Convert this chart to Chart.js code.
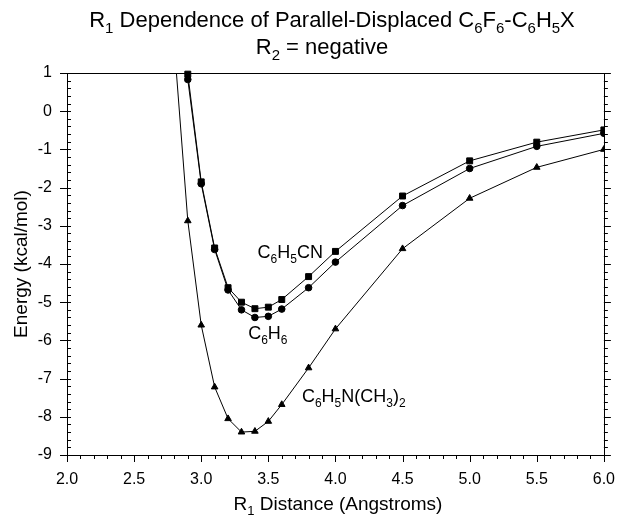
<!DOCTYPE html>
<html>
<head>
<meta charset="utf-8">
<script src="https://cdn.jsdelivr.net/npm/chart.js@4.4.0/dist/chart.umd.min.js"></script>
<style>
  html, body { margin: 0; padding: 0; background: #fff; }
  canvas { display: block; }
</style>
</head>
<body>
<canvas id="chart" width="623" height="516"></canvas>
<script>
// C6H5CN (squares)
const distCN = [2.9, 3.0, 3.1, 3.2, 3.3, 3.4, 3.5, 3.6, 3.8, 4.0, 4.5, 5.0, 5.5, 6.0];
const energyCN = [0.97, -1.85, -3.58, -4.62, -5.0, -5.17, -5.13, -4.93, -4.33, -3.67, -2.22, -1.3, -0.81, -0.49];
// C6H6 (circles)
const distBz = [2.9, 3.0, 3.1, 3.2, 3.3, 3.4, 3.5, 3.6, 3.8, 4.0, 4.5, 5.0, 5.5, 6.0];
const energyBz = [0.83, -1.9, -3.62, -4.68, -5.2, -5.4, -5.37, -5.18, -4.62, -3.95, -2.47, -1.5, -0.92, -0.58];
// C6H5N(CH3)2 (triangles)
const distDMA = [2.8, 2.9, 3.0, 3.1, 3.2, 3.3, 3.4, 3.5, 3.6, 3.8, 4.0, 4.5, 5.0, 5.5, 6.0];
const energyDMA = [1.7, -2.87, -5.6, -7.22, -8.05, -8.4, -8.38, -8.12, -7.68, -6.72, -5.7, -3.6, -2.28, -1.47, -1.0];

const xTicks = [2.0, 2.5, 3.0, 3.5, 4.0, 4.5, 5.0, 5.5, 6.0];
const yTicks = [1, 0, -1, -2, -3, -4, -5, -6, -7, -8, -9];

// {n} marks a subscript
const titleLine1 = 'R{1} Dependence of Parallel-Displaced C{6}F{6}-C{6}H{5}X';
const titleLine2 = 'R{2} = negative';
const xTitle = 'R{1} Distance (Angstroms)';
const yTitle = 'Energy (kcal/mol)';
const seriesNames = ['C{6}H{5}CN', 'C{6}H{6}', 'C{6}H{5}N(CH{3}){2}'];

const FONT = "'Liberation Sans', Arial, sans-serif";

function toPoints(xs, ys) {
  return xs.map((x, i) => ({ x: x, y: ys[i] }));
}

function parseRich(str) {
  const parts = [];
  const re = /\{([^}]*)\}|([^{]+)/g;
  let m;
  while ((m = re.exec(str)) !== null) {
    if (m[1] !== undefined) parts.push([m[1], true]);
    else parts.push([m[2], false]);
  }
  return parts;
}

function richWidth(ctx, str, size) {
  let w = 0;
  parseRich(str).forEach(([t, sub]) => {
    ctx.font = (sub ? Math.round(size * 0.68) : size) + 'px ' + FONT;
    w += ctx.measureText(t).width;
  });
  return w;
}

function drawRich(ctx, str, x, y, size, align) {
  let cx = x;
  if (align === 'center') cx = x - richWidth(ctx, str, size) / 2;
  ctx.textAlign = 'left';
  ctx.textBaseline = 'alphabetic';
  parseRich(str).forEach(([t, sub]) => {
    ctx.font = (sub ? Math.round(size * 0.68) : size) + 'px ' + FONT;
    ctx.fillText(t, cx, sub ? y + size * 0.26 : y);
    cx += ctx.measureText(t).width;
  });
}

const decorPlugin = {
  id: 'decor',
  afterDraw(chart) {
    const ctx = chart.ctx;
    const a = chart.chartArea;
    const xs = chart.scales.x;
    const ys = chart.scales.y;
    ctx.save();
    ctx.strokeStyle = '#000';
    ctx.fillStyle = '#000';
    ctx.lineWidth = 1;

    // frame
    ctx.strokeRect(Math.round(a.left) + 0.5, Math.round(a.top) + 0.5,
      Math.round(a.right - a.left), Math.round(a.bottom - a.top));

    ctx.beginPath();
    // x ticks: bottom, outward
    for (let i = 0; i <= 40; i++) {
      const v = 2 + i * 0.1;
      const px = Math.round(xs.getPixelForValue(v)) + 0.5;
      const major = i % 5 === 0;
      ctx.moveTo(px, a.bottom);
      ctx.lineTo(px, a.bottom + (major ? 7 : 4));
    }
    // y ticks: left (major outward, minor inward), right outward
    for (let i = 0; i <= 50; i++) {
      const v = 1 - i * 0.2;
      const py = Math.round(ys.getPixelForValue(v)) + 0.5;
      const major = i % 5 === 0;
      if (major) {
        ctx.moveTo(a.left - 7, py);
        ctx.lineTo(a.left + 4, py);
        ctx.moveTo(a.right, py);
        ctx.lineTo(a.right + 7, py);
      } else {
        ctx.moveTo(a.left, py);
        ctx.lineTo(a.left + 4, py);
        ctx.moveTo(a.right, py);
        ctx.lineTo(a.right + 4, py);
      }
    }
    ctx.stroke();

    // titles
    drawRich(ctx, titleLine1, 332, 27, 22, 'center');
    drawRich(ctx, titleLine2, 322, 54, 22, 'center');
    drawRich(ctx, xTitle, 338, 510, 19, 'center');

    ctx.save();
    ctx.translate(27, 264);
    ctx.rotate(-Math.PI / 2);
    drawRich(ctx, yTitle, 0, 0, 19, 'center');
    ctx.restore();

    // curve labels
    const labelAt = [[3.42, -3.84], [3.35, -5.96], [3.75, -7.61]];
    seriesNames.forEach((name, i) => {
      drawRich(ctx, name, xs.getPixelForValue(labelAt[i][0]),
        ys.getPixelForValue(labelAt[i][1]), 18, 'left');
    });
    ctx.restore();
  }
};

const common = {
  showLine: true,
  borderColor: '#000',
  backgroundColor: '#000',
  pointBackgroundColor: '#000',
  pointBorderColor: '#000',
  borderWidth: 1,
  pointBorderWidth: 1,
  tension: 0
};

new Chart(document.getElementById('chart'), {
  type: 'scatter',
  data: {
    datasets: [
      Object.assign({}, common, {
        label: 'C6H5CN',
        data: toPoints(distCN, energyCN),
        pointStyle: 'rect',
        pointRadius: 4.2,
        clip: { left: 0, right: 0, top: 4, bottom: 0 }
      }),
      Object.assign({}, common, {
        label: 'C6H6',
        data: toPoints(distBz, energyBz),
        pointStyle: 'circle',
        pointRadius: 3.3,
        clip: { left: 0, right: 0, top: 4, bottom: 0 }
      }),
      Object.assign({}, common, {
        label: 'C6H5N(CH3)2',
        data: toPoints(distDMA, energyDMA),
        pointStyle: 'triangle',
        pointRadius: 3.8,
        clip: 0
      })
    ]
  },
  options: {
    responsive: false,
    animation: false,
    devicePixelRatio: 1,
    layout: { padding: { top: 73, left: 0, right: 15, bottom: 0 } },
    plugins: {
      legend: { display: false },
      tooltip: { enabled: false },
      title: { display: false }
    },
    scales: {
      x: {
        type: 'linear',
        min: 2,
        max: 6,
        afterBuildTicks: s => { s.ticks = xTicks.map(v => ({ value: v })); },
        afterFit: s => { s.height = 61; },
        grid: { display: false, drawTicks: true, tickLength: 7 },
        border: { display: false },
        ticks: {
          color: '#000',
          font: { family: FONT, size: 16 },
          padding: 8,
          maxRotation: 0,
          callback: v => Number(v).toFixed(1)
        }
      },
      y: {
        type: 'linear',
        min: -9,
        max: 1,
        afterBuildTicks: s => { s.ticks = yTicks.map(v => ({ value: v })); },
        afterFit: s => { s.width = 67; },
        grid: { display: false, drawTicks: true, tickLength: 7 },
        border: { display: false },
        ticks: {
          color: '#000',
          font: { family: FONT, size: 16 },
          padding: 8,
          callback: v => String(v)
        }
      }
    }
  },
  plugins: [decorPlugin]
});
</script>
</body>
</html>
